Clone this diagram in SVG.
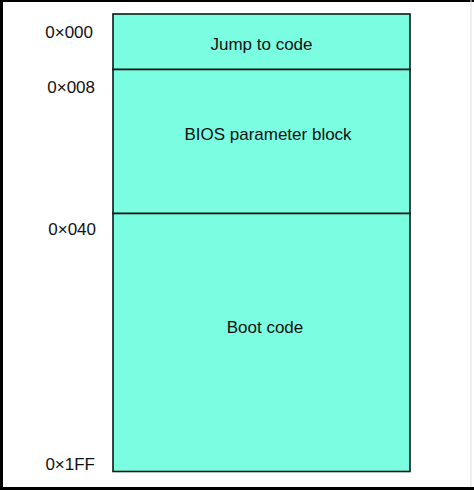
<svg xmlns="http://www.w3.org/2000/svg" width="474" height="490" viewBox="0 0 474 490">
<style>
.lbl{font-family:"Liberation Sans",Arial,sans-serif;font-size:17px;fill:#111}
.sec{fill:#7bfde2;stroke:#0a1a16;stroke-width:1.6}
</style>
<rect x="0" y="0" width="474" height="490" fill="#fff"/>
<g id="frame">
<line x1="1.5" y1="0" x2="1.5" y2="490" stroke="#000" stroke-width="3"/>
<line x1="0" y1="1" x2="474" y2="1" stroke="#000" stroke-width="2"/>
<line x1="0" y1="488.5" x2="474" y2="488.5" stroke="#000" stroke-width="3"/>
<line x1="471" y1="0" x2="471" y2="487" stroke="#ddd" stroke-width="1"/>
</g>
<g id="jump">
<rect class="sec" x="113" y="14" width="297" height="55.5"/>
<text class="lbl" x="261.5" y="50" text-anchor="middle">Jump to code</text>
</g>
<g id="bpb">
<rect class="sec" x="113" y="69.5" width="297" height="144"/>
<text class="lbl" x="268" y="140" text-anchor="middle">BIOS parameter block</text>
</g>
<g id="boot">
<rect class="sec" x="113" y="213.5" width="297" height="258"/>
<text class="lbl" x="265" y="333" text-anchor="middle">Boot code</text>
</g>
<g id="addr">
<text class="lbl" x="93" y="38" text-anchor="end">0×000</text>
<text class="lbl" x="95" y="93" text-anchor="end">0×008</text>
<text class="lbl" x="96" y="235" text-anchor="end">0×040</text>
<text class="lbl" x="95" y="470" text-anchor="end">0×1FF</text>
</g>
<g id="connectors"></g>
</svg>
